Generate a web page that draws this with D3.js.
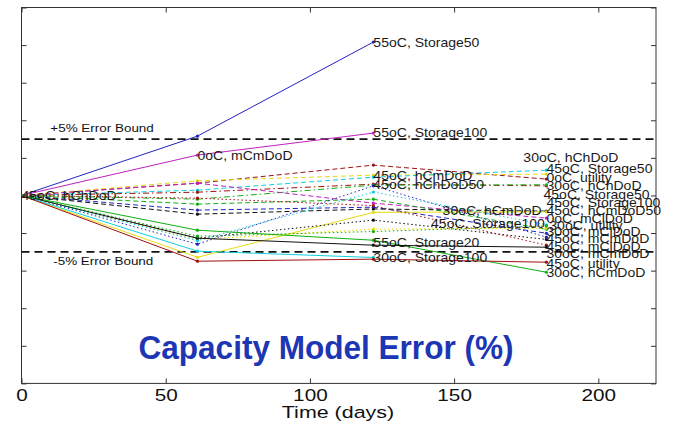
<!DOCTYPE html>
<html>
<head>
<meta charset="utf-8">
<script src="https://cdn.jsdelivr.net/npm/d3@7"></script>
<style>
  body { margin: 0; background: #fff; }
  svg { display: block; font-family: "Liberation Sans", Arial, sans-serif; }
</style>
</head>
<body>
<div id="chart"></div>
<script>
// capacity model error vs time, one line per test condition

const width = 679,
    height = 422,
    margin = ({ top: 7.5, right: 23, bottom: 38.6, left: 21.5 });

// data
const days = [0, 61, 122, 182];
const xTicks = [0, 50, 100, 150, 200];
const errorBounds = [5, -5];
const boundLabels = ["+5% Error Bound", "-5% Error Bound"];
const boundLabelDay = [10, 11];
const boundLabelValue = [6.0, -5.85];

const seriesColors = ["#2323c0", "#c020c0", "#a01010", "#e6dc10", "#10d0e0", "#a01010", "#10b010",
    "#c020c0", "#2323c0", "#10b010", "#111111", "#e6dc10", "#111111", "#e6dc10", "#2323c0",
    "#10d0e0", "#a01010", "#10b010", "#111111", "#10d0e0", "#a01010", "#10b010"];
const seriesStyles = ["-", "-", "--", "--", "--", "-.", "-.", "--", "--", "--", "--", "-", ":", ":", ":",
    ":", ":", "-", "-", "-", "-", ":"];
const seriesValues = [
    [0, 5.26, 13.6, null],    // 55oC Storage50
    [0, 3.58, 5.53, null],    // 55oC Storage100
    [0, 1.09, 2.69, 1.45],    // 30oC hChDoD
    [0, 1.30, 1.80, 1.89],    // 0oC utility
    [0, 0.47, 1.62, 2.24],    // 45oC Storage50
    [0, 0.29, 1.00, 0.85],    // 30oC hChDoD
    [0, -0.33, 0.91, 0.95],   // 45oC hChDoD50
    [0, 1.09, -0.68, -2.01],  // 0oC mClDoD
    [0, -1.30, -1.04, -3.35], // 30oC mClDoD
    [0, -0.77, -0.33, -3.00], // 45oC mCmDoD
    [0, -1.66, -1.20, -1.39], // 45oC Storage100
    [0, -5.48, -1.50, -1.45], // 45oC hCmDoD50
    [0, -3.79, -2.19, -3.90],
    [0, -3.90, -2.99, -2.90], // 30oC utility
    [0, -4.32, 0.85, -3.70],
    [0, -4.00, 0.30, -2.60],
    [0, -0.24, -0.90, -4.41], // 45oC mClDoD
    [0, -3.08, -3.97, -6.81], // 30oC hCmDoD
    [0, -3.79, -4.41, -4.59], // 30oC mCmDoD
    [0, -4.94, -5.50, null],  // 30oC Storage100
    [0, -5.83, -5.65, -5.92], // 45oC utility
    [0, -3.61, -3.20, -2.70]
];

// text labels placed in data units
const labelText = ["55oC, Storage50", "55oC, Storage100", "0oC, mCmDoD", "45oC, hChDoD",
    "45oC, hCmDoD", "45oC, hChDoD50", "30oC, hCmDoD", "45oC, Storage100", "55oC, Storage20",
    "30oC, Storage100", "30oC, hChDoD", "45oC, Storage50", "0oC, utility", "30oC, hChDoD",
    "45oC, Storage50", "45oC, Storage100", "45oC, hCmDoD50", "0oC, mClDoD", "30oC, utility",
    "30oC, mClDoD", "45oC, mCmDoD", "45oC, mClDoD", "30oC, mCmDoD", "45oC, utility", "30oC, hCmDoD"];
const labelDay = [122, 122, 61, 0, 122, 122, 146, 142, 122, 122, 174, 182, 182, 182,
    181, 182, 182, 182, 183, 182, 182, 182, 182, 182, 182];
const labelValue = [13.5, 5.6, 3.5, 0, 1.75, 0.95, -1.4, -2.55, -4.2, -5.55, 3.35, 2.4, 1.6, 0.9,
    0.05, -0.65, -1.4, -2.05, -2.65, -3.2, -3.8, -4.55, -5.2, -6.05, -6.85];

const yMax = 50 / 3;
const yTicks = d3.range(-5, 6).map(i => i * 10 / 3);

const dashes = { "-": null, "--": "5,3", ":": "1.5,2.5", "-.": "6,3,1.5,3" };
const stretch = "scale(1.17,1)"; // the source picture is a bit wide

let svg = d3.select("#chart")
    .append("svg")
    .attr("width", width)
    .attr("height", height);

let x = d3.scaleLinear()
    .domain([0, 220])
    .range([margin.left, width - margin.right]);

let y = d3.scaleLinear()
    .domain([-yMax, yMax])
    .range([height - margin.bottom, margin.top]);

// ticks on all four sides, pointing in
svg.append("g")
    .attr("transform", `translate(0,${height - margin.bottom})`)
    .call(d3.axisBottom(x).tickValues(xTicks).tickSize(-5).tickPadding(6))
    .call(g => g.select(".domain").remove())
    .call(g => g.selectAll("line").attr("stroke", "#333"))
    .call(g => g.selectAll("text")
        .attr("font-size", 17)
        .attr("font-family", "Liberation Sans, Arial, sans-serif")
        .attr("fill", "#111")
        .attr("transform", "scale(1.22,1)"));

svg.append("g")
    .attr("transform", `translate(0,${margin.top})`)
    .call(d3.axisTop(x).tickValues(xTicks).tickSize(-5).tickFormat(""))
    .call(g => g.select(".domain").remove())
    .call(g => g.selectAll("line").attr("stroke", "#333"));

svg.append("g")
    .attr("transform", `translate(${margin.left},0)`)
    .call(d3.axisLeft(y).tickValues(yTicks).tickSize(-5).tickFormat(""))
    .call(g => g.select(".domain").remove())
    .call(g => g.selectAll("line").attr("stroke", "#333"));

svg.append("g")
    .attr("transform", `translate(${width - margin.right},0)`)
    .call(d3.axisRight(y).tickValues(yTicks).tickSize(-5).tickFormat(""))
    .call(g => g.select(".domain").remove())
    .call(g => g.selectAll("line").attr("stroke", "#333"));

svg.append("rect")
    .attr("x", margin.left)
    .attr("y", margin.top)
    .attr("width", width - margin.left - margin.right)
    .attr("height", height - margin.top - margin.bottom)
    .attr("fill", "none")
    .attr("stroke", "#333")
    .attr("stroke-width", 1);

// error bounds
svg.selectAll(".bound")
    .data(errorBounds)
    .join("line")
    .attr("class", "bound")
    .attr("x1", margin.left)
    .attr("x2", width - margin.right)
    .attr("y1", d => y(d))
    .attr("y2", d => y(d))
    .attr("stroke", "#111")
    .attr("stroke-width", 1.8)
    .attr("stroke-dasharray", "8,5");

svg.selectAll(".bound-label")
    .data(boundLabels)
    .join("text")
    .attr("class", "bound-label")
    .attr("transform", (d, i) => `translate(${x(boundLabelDay[i])},${y(boundLabelValue[i])}) ${stretch}`)
    .attr("dy", "0.35em")
    .attr("font-size", 11.5)
    .attr("fill", "#111")
    .text(d => d);

// lines
let line = d3.line()
    .defined(d => d.v != null)
    .x(d => x(d.day))
    .y(d => y(d.v));

let series = seriesValues.map((vals, i) => ({
    color: seriesColors[i],
    style: seriesStyles[i],
    points: vals.map((v, j) => ({ day: days[j], v: v }))
}));

svg.append("g")
    .selectAll("path")
    .data(series)
    .join("path")
    .attr("d", d => line(d.points))
    .attr("fill", "none")
    .attr("stroke", d => d.color)
    .attr("stroke-width", 1)
    .attr("stroke-dasharray", d => dashes[d.style]);

svg.append("g")
    .selectAll("g")
    .data(series)
    .join("g")
    .attr("fill", d => d.color)
    .selectAll("circle")
    .data(d => d.points.filter(p => p.v != null && p.day > 0))
    .join("circle")
    .attr("cx", d => x(d.day))
    .attr("cy", d => y(d.v))
    .attr("r", 1.6);

// condition labels
svg.append("g")
    .selectAll("text")
    .data(labelText)
    .join("text")
    .attr("transform", (d, i) => `translate(${x(labelDay[i])},${y(labelValue[i])}) ${stretch}`)
    .attr("dy", "0.35em")
    .attr("font-size", 12)
    .attr("fill", "#1a1a1a")
    .text(d => d);

// axis title and the big caption
svg.append("text")
    .attr("transform", `translate(338,418) scale(1.3,1)`)
    .attr("text-anchor", "middle")
    .attr("font-size", 16.5)
    .attr("fill", "#111")
    .text("Time (days)");

svg.append("text")
    .attr("x", 326)
    .attr("y", 359)
    .attr("text-anchor", "middle")
    .attr("font-size", 33)
    .attr("font-weight", "bold")
    .attr("fill", "#1d36b4")
    .attr("textLength", 375)
    .attr("lengthAdjust", "spacingAndGlyphs")
    .text("Capacity Model Error (%)");
</script>
</body>
</html>
